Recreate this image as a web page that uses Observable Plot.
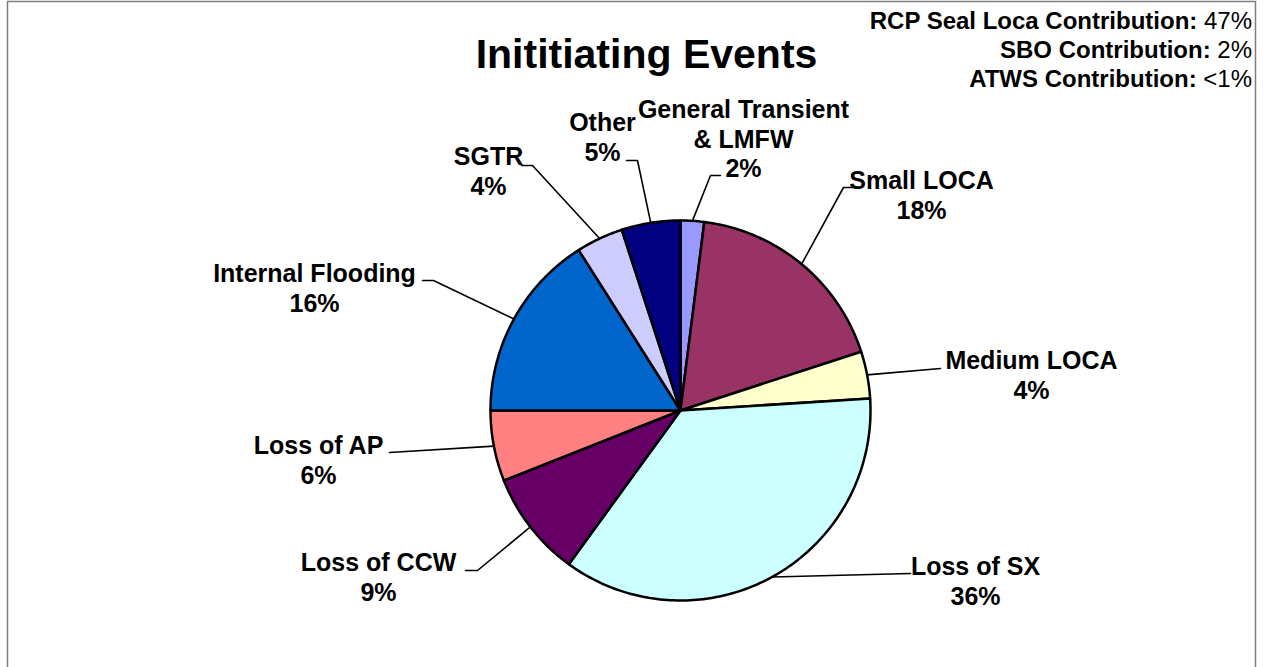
<!DOCTYPE html>
<html>
<head>
<meta charset="utf-8">
<script src="https://cdn.jsdelivr.net/npm/d3@7"></script>
<script src="https://cdn.jsdelivr.net/npm/@observablehq/plot@0.6"></script>
<style>
  html, body { margin: 0; padding: 0; background: #fff; }
  #wrap { position: relative; width: 1266px; height: 667px; overflow: hidden; font-family: "Liberation Sans", Arial, sans-serif; }
  #notes { position: absolute; right: 14px; top: 6px; font-size: 24px; line-height: 29px; text-align: right;
           white-space: nowrap; color: #000; }
  #notes b { font-weight: bold; }
</style>
</head>
<body>
<div id="wrap"></div>
<script>
// ---- data ----
const titleText = "Inititiating Events";
const categories = ["General Transient & LMFW", "Small LOCA", "Medium LOCA", "Loss of SX", "Loss of CCW", "Loss of AP", "Internal Flooding", "SGTR", "Other"];
const labelLines = ["General Transient\n& LMFW", "Small LOCA", "Medium LOCA", "Loss of SX", "Loss of CCW", "Loss of AP", "Internal Flooding", "SGTR", "Other"];
const values = [2, 18, 4, 36, 9, 6, 16, 4, 5];
const colors = ["#9999FF", "#993366", "#FFFFCC", "#CCFFFF", "#660066", "#FF8080", "#0066CC", "#CCCCFF", "#000080"];
const noteLabels = ["RCP Seal Loca Contribution:", "SBO Contribution:", "ATWS Contribution:"];
const noteValues = ["47%", "2%", "<1%"];

// ---- layout (pixel offsets from pie centre) ----
const cx = 680, cy = 410, R = 190;
const labelOffset = [[63, -272], [241, -216], [351, -36], [295, 170], [-302, 166], [-362, 49], [-366, -123], [-192, -240], [-78, -274]];
const elbowOffset = [[30, -235], [163, -223], [260, -42], [230, 163], [-203, 160], [-291, 42], [-247, -130], [-148, -245], [-43, -250]];
const endOffset   = [[40, -235], [174, -223], [260, -42], [230, 163], [-215, 160], [-291, 42], [-258, -130], [-159, -245], [-54, -250]];

// ---- derived geometry ----
const total = d3.sum(values);
const slices = [];
const leaders = [];
const labels = [];
let acc = 0;
values.forEach((v, i) => {
  const a0 = acc / total * 2 * Math.PI;
  acc += v;
  const a1 = acc / total * 2 * Math.PI;
  const n = Math.max(2, Math.ceil((a1 - a0) / (Math.PI / 180)));
  slices.push({name: categories[i], color: colors[i], x: cx, y: cy});
  for (let k = 0; k <= n; k++) {
    const a = a0 + (a1 - a0) * k / n;
    slices.push({name: categories[i], color: colors[i], x: cx + R * Math.sin(a), y: cy - R * Math.cos(a)});
  }
  slices.push({name: categories[i], color: colors[i], x: cx, y: cy});
  const am = (a0 + a1) / 2;
  leaders.push({name: categories[i], x: cx + R * Math.sin(am), y: cy - R * Math.cos(am)});
  leaders.push({name: categories[i], x: cx + elbowOffset[i][0], y: cy + elbowOffset[i][1]});
  leaders.push({name: categories[i], x: cx + endOffset[i][0], y: cy + endOffset[i][1]});
  labels.push({text: labelLines[i] + "\n" + v + "%", x: cx + labelOffset[i][0], y: cy + labelOffset[i][1]});
});

const plot = Plot.plot({
  width: 1266,
  height: 667,
  margin: 0,
  x: {domain: [0, 1266], range: [0, 1266], axis: null},
  y: {domain: [0, 667], range: [0, 667], axis: null},
  color: {type: "identity"},
  style: {fontFamily: "'Liberation Sans', Arial, sans-serif", background: "#fff", color: "#000"},
  marks: [
    Plot.frame({stroke: "#7f7f7f", strokeWidth: 1.5, insetLeft: 7, insetTop: 1, insetRight: 11, insetBottom: -6}),
    Plot.line(leaders, {x: "x", y: "y", z: "name", stroke: "#000", strokeWidth: 1.6}),
    Plot.line(slices, {x: "x", y: "y", z: "name", fill: "color", stroke: "#000", strokeWidth: 2.5, strokeLinejoin: "round"}),
    Plot.text(labels, {x: "x", y: "y", text: "text", fontSize: 25, fontWeight: "bold", lineHeight: 1.18, fill: "#000"}),
    Plot.text([titleText], {frameAnchor: "top", dx: 13, dy: 54, lineAnchor: "middle", fontSize: 41, fontWeight: "bold", fill: "#000"})
  ]
});

const wrap = document.getElementById("wrap");
wrap.appendChild(plot);
const notes = document.createElement("div");
notes.id = "notes";
notes.innerHTML = noteLabels.map((l, i) => `<b>${l}</b> ${noteValues[i]}`).join("<br>");
wrap.appendChild(notes);
</script>
</body>
</html>
